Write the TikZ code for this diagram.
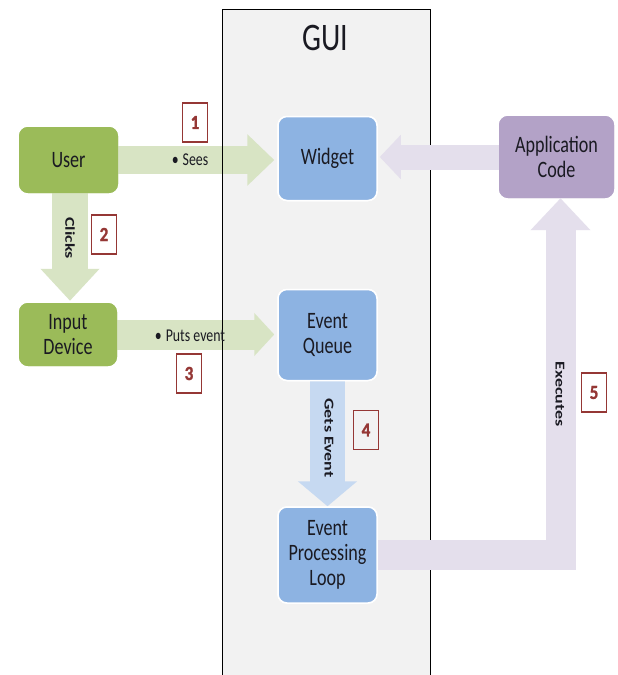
\documentclass[tikz,border=0pt]{standalone}
\usepackage{fontspec}
\setmainfont{Carlito}
\newfontfamily\tallfont[FakeStretch=0.77]{Carlito}
\newfontfamily\widefont[FakeStretch=1.33]{Carlito}
\newfontfamily\numfont[FakeStretch=0.85,FakeBold=1.2]{Carlito}
\usetikzlibrary{arrows.meta,calc}
\definecolor{boxgreen}{HTML}{9BBB59}
\definecolor{arrgreen}{HTML}{D8E4C4}
\definecolor{boxblue}{HTML}{8DB3E2}
\definecolor{arrblue}{HTML}{C6D9F1}
\definecolor{boxpurple}{HTML}{B3A2C7}
\definecolor{arrpurple}{HTML}{E4DFEC}
\definecolor{guigray}{HTML}{F2F2F2}
\definecolor{numred}{HTML}{953735}
\definecolor{txt}{HTML}{1A1A22}
\tikzset{
  box/.style={rounded corners=9pt, align=center, inner sep=0pt, text=txt,
    font=\tallfont\fontsize{23.5}{25}\selectfont},
  gbox/.style={box, fill=boxgreen},
  bbox/.style={box, fill=boxblue, draw=white, line width=1.5pt},
  pbox/.style={box, fill=boxpurple},
  garrow/.style={draw=arrgreen},
  barrow/.style={draw=arrblue},
  parrow/.style={draw=arrpurple},
  lbl/.style={inner sep=0pt, text=txt, font=\tallfont\fontsize{18}{20}\selectfont},
  rlbl/.style={inner sep=0pt, text=txt, rotate=-90, font=\widefont\bfseries\fontsize{13.5}{14}\selectfont},
  numbox/.style={draw=numred, line width=1.2pt, text=numred, inner sep=0pt,
    minimum width=25pt, minimum height=39pt, font=\numfont\bfseries\fontsize{20}{21}\selectfont},
}
\begin{document}
\begin{tikzpicture}[x=1pt,y=-1pt]
\useasboundingbox (0,0) rectangle (618,675);
\clip (0,0) rectangle (618,675);
\fill[white] (0,0) rectangle (618,675);
% GUI container
\node[fill=guigray, inner sep=0pt, minimum width=207pt, minimum height=700pt, anchor=north] (gui) at (326.5,9) {};
\node[inner sep=0pt, text=txt, font=\tallfont\fontsize{39}{40}\selectfont] (guititle) at (325,38) {GUI};
% boxes (placed first so arrows can refer to them; redrawn on top below)
\path
  node[gbox, minimum width=99pt, minimum height=66pt] (user) at (68.5,160) {}
  node[gbox, minimum width=98pt, minimum height=63pt] (input) at (68,334.5) {}
  node[bbox, minimum width=99pt, minimum height=84pt] (widget) at (327.5,158.5) {}
  node[bbox, minimum width=99pt, minimum height=91pt] (queue) at (327.5,335) {}
  node[bbox, minimum width=99pt, minimum height=96pt] (epl) at (327.5,555) {}
  node[pbox, minimum width=115pt, minimum height=82pt] (app) at (556.5,157) {};
% green arrows (under GUI border)
\draw[garrow, line width=28pt, -{Triangle[length=27pt,width=50pt]}]
  (user.east) -- ([xshift=-3pt]user.east -| widget.west);
\draw[garrow, line width=30pt, -{Triangle[length=20pt,width=42pt]}]
  (input.east) -- ([xshift=-3pt]input.east -| queue.west);
% GUI border
\draw[black, line width=1pt] (gui.north west) -- (gui.north east) -- (gui.south east) (gui.north west) -- (gui.south west);
% other arrows
\draw[garrow, line width=36pt, -{Triangle[length=32pt,width=57pt]}]
  ([xshift=1.5pt]user.south) -- ([xshift=2pt,yshift=2pt]input.north);
\draw[barrow, line width=35pt, -{Triangle[length=25pt,width=58pt]}]
  (queue.south) -- (epl.north);
\draw[parrow, line width=25pt, -{Triangle[length=21pt,width=43pt]}]
  (app.west) -- ([xshift=2pt]app.west -| widget.east);
\draw[parrow, line width=30pt, line join=miter, -{Triangle[length=32pt,width=58pt]}]
  (epl.east) -| ([xshift=4pt]app.south);
% boxes on top
\node[gbox, minimum width=99pt, minimum height=66pt] at (user) {User};
\node[gbox, minimum width=98pt, minimum height=63pt] at (input) {Input\\Device};
\node[bbox, minimum width=99pt, minimum height=84pt] at (widget) {Widget};
\node[bbox, minimum width=99pt, minimum height=91pt] at (queue) {Event\\Queue};
\node[bbox, minimum width=99pt, minimum height=96pt] at (epl) {Event\\Processing\\Loop};
\node[pbox, minimum width=115pt, minimum height=82pt] at (app) {Application\\Code};
% labels
\node[lbl] (sees) at (190,160) {•\hspace{4pt}Sees};
\node[lbl] (puts) at (190,336) {•\hspace{4pt}Puts event};
\node[rlbl] (clicks) at (70,238) {Clicks};
\node[rlbl] (gets) at (329,438) {Gets Event};
\node[rlbl] (exec) at (560,394) {Executes};
% step numbers
\node[numbox] (n1) at (195,122.5) {1};
\node[numbox] (n2) at (104,234.5) {2};
\node[numbox] (n3) at (189,373.5) {3};
\node[numbox] (n4) at (366,430) {4};
\node[numbox] (n5) at (594,392.5) {5};
\end{tikzpicture}
\end{document}
